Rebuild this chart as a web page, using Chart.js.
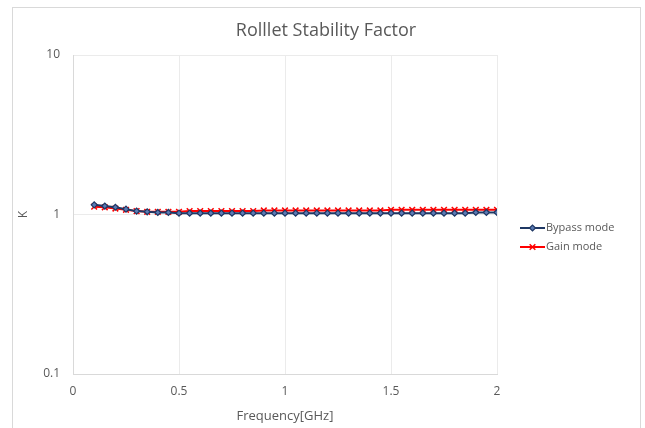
<!DOCTYPE html>
<html><head><meta charset="utf-8">
<script src="https://cdn.jsdelivr.net/npm/chart.js@4"></script>
<style>html,body{margin:0;padding:0;background:#fff}#wrap{width:645px;height:428px}</style>
</head><body><div id="wrap"><canvas id="c" width="645" height="428"></canvas></div>
<script>
const freq = [0.1,0.15,0.2,0.25,0.3,0.35,0.4,0.45,0.5,0.55,0.6,0.65,0.7,0.75,0.8,0.85,0.9,0.95,1.0,1.05,1.1,1.15,1.2,1.25,1.3,1.35,1.4,1.45,1.5,1.55,1.6,1.65,1.7,1.75,1.8,1.85,1.9,1.95,2.0];
const bypass = [1.15,1.13,1.11,1.08,1.05,1.04,1.03,1.03,1.02,1.02,1.02,1.02,1.02,1.02,1.02,1.02,1.02,1.02,1.02,1.02,1.02,1.02,1.02,1.02,1.02,1.02,1.02,1.02,1.02,1.02,1.02,1.02,1.02,1.02,1.02,1.02,1.03,1.03,1.03];
const gain = [1.12,1.11,1.09,1.07,1.05,1.04,1.04,1.04,1.04,1.05,1.05,1.05,1.05,1.05,1.05,1.05,1.06,1.06,1.06,1.06,1.06,1.06,1.06,1.06,1.06,1.06,1.06,1.06,1.07,1.07,1.07,1.07,1.07,1.07,1.07,1.07,1.07,1.07,1.07];
const yTicks = [0.1, 1, 10];
const xTicks = [0, 0.5, 1, 1.5, 2];
const seriesNames = ['Bypass mode', 'Gain mode'];

const FONT = '"Open Sans", "Liberation Sans", sans-serif';
const GRAY = '#595959';

const frame = {
  id: 'frame',
  beforeDraw(chart) {
    const ctx = chart.ctx;
    ctx.save();
    ctx.strokeStyle = '#d9d9d9';
    ctx.lineWidth = 1;
    ctx.strokeRect(12.5, 7.5, 628, 440);
    ctx.restore();
  },
  afterDraw(chart) {
    const ctx = chart.ctx;
    ctx.save();
    const items = [
      {y: 228, ds: chart.data.datasets[0]},
      {y: 247, ds: chart.data.datasets[1]}
    ];
    items.forEach(it => {
      const ds = it.ds;
      ctx.strokeStyle = ds.borderColor;
      ctx.lineWidth = 2;
      ctx.beginPath(); ctx.moveTo(520, it.y); ctx.lineTo(545, it.y); ctx.stroke();
      ctx.fillStyle = ds.pointBackgroundColor;
      ctx.strokeStyle = ds.pointBorderColor;
      ctx.lineWidth = ds.pointBorderWidth;
      Chart.helpers.drawPoint(ctx, {pointStyle: ds.pointStyle, radius: ds.pointRadius, borderWidth: ds.pointBorderWidth}, 532.5, it.y);
      ctx.fillStyle = GRAY;
      ctx.font = '11px ' + FONT;
      ctx.textBaseline = 'middle';
      ctx.textAlign = 'left';
      ctx.fillText(ds.label, 546, it.y);
    });
    ctx.restore();
  }
};

new Chart(document.getElementById('c'), {
  type: 'line',
  data: {
    datasets: [
      {label: seriesNames[0], data: freq.map((f,i)=>({x:f, y:bypass[i]})), borderColor:'#1f3864', backgroundColor:'#1f3864',
       borderWidth:2, pointStyle:'rectRot', pointRadius:3, pointBackgroundColor:'#5b7bb5', pointBorderColor:'#1f3864', pointBorderWidth:1.2, tension:0},
      {label: seriesNames[1], data: freq.map((f,i)=>({x:f, y:gain[i]})), borderColor:'#ff0000', backgroundColor:'#ff0000',
       borderWidth:2, pointStyle:'crossRot', pointRadius:4, pointBackgroundColor:'#ff0000', pointBorderColor:'#ff0000', pointBorderWidth:1.5, tension:0}
    ]
  },
  options: {
    responsive:false, animation:false, devicePixelRatio:1,
    layout:{padding:{left:12, top:55, right:148, bottom:0}},
    plugins:{
      legend:{display:false}, tooltip:{enabled:false},
      title:{display:false}
    },
    scales:{
      x:{type:'linear', min:0, max:2,
        afterBuildTicks(s){ s.ticks = xTicks.map(v=>({value:v})); },
        ticks:{color:GRAY, font:{family:FONT, size:12}, padding:10, callback:v=>String(v)},
        grid:{color:'#ebebeb', drawTicks:false},
        border:{color:'#d9d9d9'},
        title:{display:true, text:'Frequency[GHz]', color:GRAY, font:{family:FONT, size:13}, padding:{top:3}},
        afterFit(s){ s.height = 54; }
      },
      y:{type:'logarithmic', min:0.1, max:10,
        afterBuildTicks(s){ s.ticks = yTicks.map(v=>({value:v})); },
        ticks:{color:GRAY, font:{family:FONT, size:12}, padding:13, callback:v=>String(v)},
        grid:{color:'#ebebeb', drawTicks:false},
        border:{color:'#d9d9d9'},
        title:{display:true, text:'K', color:GRAY, font:{family:FONT, size:12}, padding:{bottom:4}},
        afterFit(s){ s.width = 61; }
      }
    }
  },
  plugins:[frame, {
    id:'ttl',
    afterDraw(chart){
      const ctx=chart.ctx; ctx.save();
      ctx.fillStyle=GRAY; ctx.font='18px '+FONT; ctx.textAlign='center'; ctx.textBaseline='middle';
      ctx.fillText('Rolllet Stability Factor', 326, 31);
      ctx.restore();
    }
  }]
});
</script></body></html>
